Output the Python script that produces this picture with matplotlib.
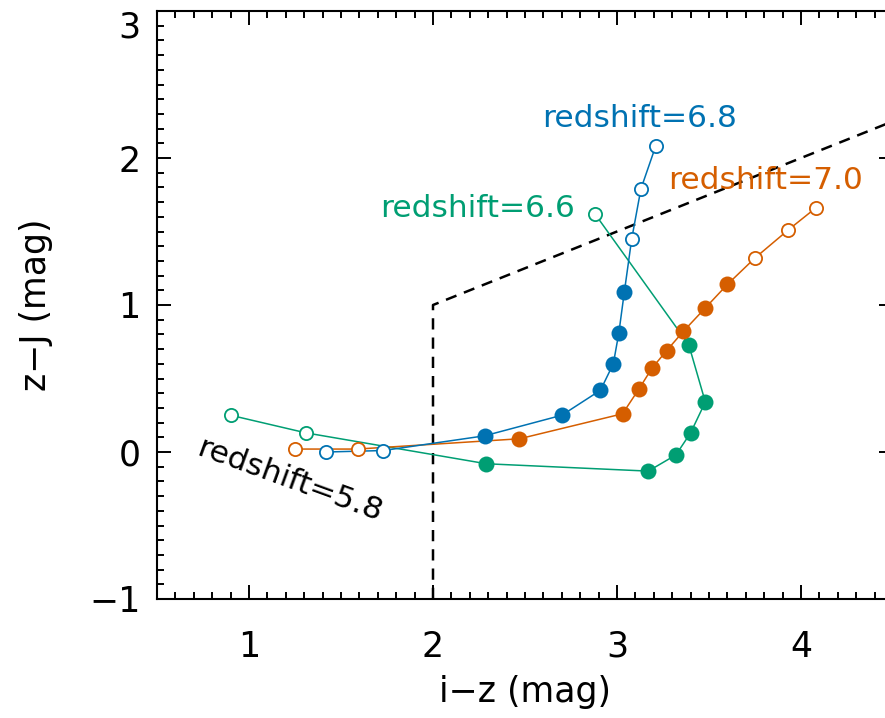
import matplotlib
matplotlib.use("Agg")
import matplotlib.pyplot as plt
from matplotlib.ticker import MultipleLocator

plt.rcParams['font.family'] = ['DejaVu Sans']

# redshift tracks in the i-z / z-J plane (filled = inside selection range)
blue_x = [1.42, 1.73, 2.28, 2.70, 2.91, 2.98, 3.01, 3.04, 3.08, 3.13, 3.21]
blue_y = [0.00, 0.01, 0.11, 0.25, 0.42, 0.60, 0.81, 1.09, 1.45, 1.79, 2.08]
blue_filled = [0, 0, 1, 1, 1, 1, 1, 1, 0, 0, 0]

orange_x = [1.25, 1.59, 2.47, 3.03, 3.12, 3.19, 3.27, 3.36, 3.48, 3.60, 3.75, 3.93, 4.08]
orange_y = [0.02, 0.02, 0.09, 0.26, 0.43, 0.57, 0.69, 0.82, 0.98, 1.14, 1.32, 1.51, 1.66]
orange_filled = [0, 0, 1, 1, 1, 1, 1, 1, 1, 1, 0, 0, 0]

green_x = [0.90, 1.31, 2.29, 3.17, 3.32, 3.40, 3.48, 3.39, 2.88]
green_y = [0.25, 0.13, -0.08, -0.13, -0.02, 0.13, 0.34, 0.73, 1.62]
green_filled = [0, 0, 1, 1, 1, 1, 1, 1, 0]

# selection box: i-z > 2 and z-J > 0.5 (i-z)
cut_x = [2.0, 2.0, 4.5]
cut_y = [-1.0, 1.0, 2.25]

BLUE = '#0072B2'
ORANGE = '#D55E00'
GREEN = '#009E73'

fig = plt.figure(figsize=(8.85, 7.18), dpi=100)
ax = fig.add_axes([157/885, 119/718, (893-157)/885, (707-119)/718])

ax.plot(cut_x, cut_y, color='black', linestyle=(0, (4.5, 3.2)), linewidth=1.8, zorder=1)

for xs, ys, fl, col in [(green_x, green_y, green_filled, GREEN),
                        (orange_x, orange_y, orange_filled, ORANGE),
                        (blue_x, blue_y, blue_filled, BLUE)]:
    ax.plot(xs, ys, color=col, linewidth=1.1, zorder=2)
    fx = [x for x, f in zip(xs, fl) if f]
    fy = [y for y, f in zip(ys, fl) if f]
    ox = [x for x, f in zip(xs, fl) if not f]
    oy = [y for y, f in zip(ys, fl) if not f]
    ax.plot(fx, fy, 'o', color=col, markersize=11.5, markeredgewidth=0, zorder=3)
    ax.plot(ox, oy, 'o', markerfacecolor='white', markeredgecolor=col,
            markersize=9.5, markeredgewidth=1.3, zorder=3)

ax.text(3.12, 2.21, 'redshift=6.8', color=BLUE, fontsize=22.5,
        ha='center', va='baseline')
ax.text(2.24, 1.60, 'redshift=6.6', color=GREEN, fontsize=22.5,
        ha='center', va='baseline')
ax.text(3.81, 1.79, 'redshift=7.0', color=ORANGE, fontsize=22.5,
        ha='center', va='baseline')
ax.text(1.22, -0.19, 'redshift=5.8', color='black', fontsize=22.5,
        ha='center', va='center', rotation=-20)

ax.set_xlim(0.5, 4.5)
ax.set_ylim(-1.0, 3.0)
ax.xaxis.set_minor_locator(MultipleLocator(0.1))
ax.yaxis.set_minor_locator(MultipleLocator(0.1))
ax.set_xticks([1, 2, 3, 4])
ax.set_yticks([-1, 0, 1, 2, 3])
ax.set_yticklabels(['\u22121', '0', '1', '2', '3'])

ax.tick_params(which='both', direction='in', top=True, right=True, width=1.4, colors='black')
ax.tick_params(which='major', length=10, labelsize=25)
ax.tick_params(which='minor', length=5)
ax.tick_params(axis='x', which='major', pad=22)
ax.tick_params(axis='y', which='major', pad=12)
# top label sits below its tick so it stays inside the figure
ax.get_yticklabels()[-1].set_va('top')
for sp in ax.spines.values():
    sp.set_linewidth(1.5)

ax.set_xlabel('i\u2212z (mag)', fontsize=25, labelpad=8)
ax.set_ylabel('z\u2212J (mag)', fontsize=25, labelpad=26)

fig.savefig('out.png', dpi=100)
